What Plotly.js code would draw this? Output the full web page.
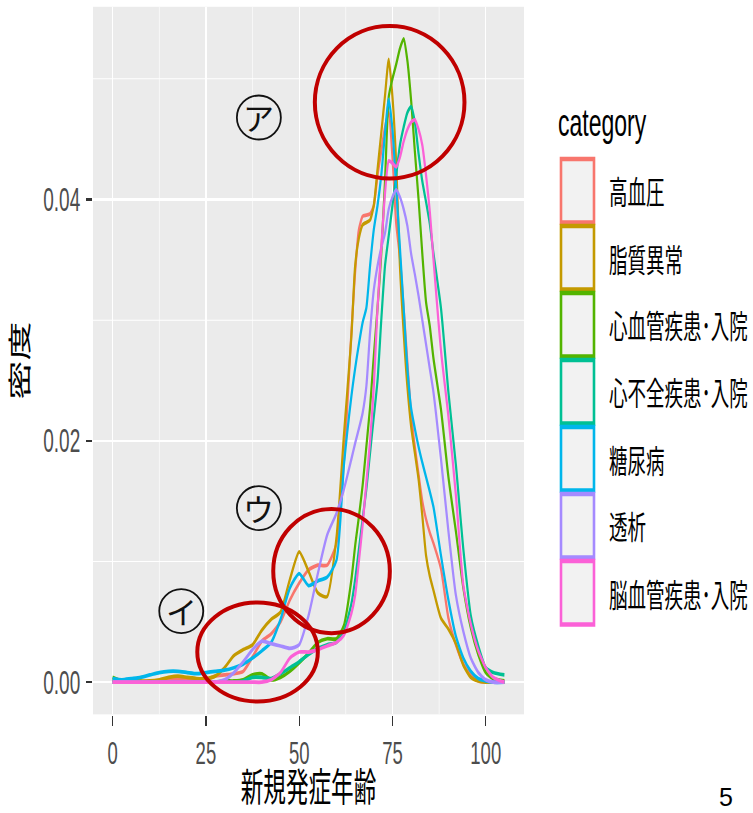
<!DOCTYPE html>
<html><head><meta charset="utf-8">
<script src="https://cdn.plot.ly/plotly-3.0.1.min.js"></script>
<style>
html,body{margin:0;padding:0;background:#fff;overflow:hidden;}
#wrap{position:relative;width:753px;height:813px;overflow:hidden;}
#chart{position:absolute;left:0;top:0;width:753px;height:478px;transform:scaleY(1.700837);transform-origin:0 0;}
#marks{position:absolute;left:0;top:0;width:753px;height:813px;}
</style></head><body>
<div id="wrap"><div id="chart"></div><div id="marks"></div></div>
<script>
// ---- data ----
const ageX = [0,2.5,5,7.5,10,12.5,15,17.5,20,22.5,25,27.5,30,32.5,35,37.5,40,42.5,45,47.5,50,52.5,55,57.5,60,
  62,64,65,66,67,68,69,70,71,72,73,74,75,76,77,78,79,80,81,82,83,84,85,86,88,90,92,94,96,98,100,102,105];
const categories = ['高血圧','脂質異常','心血管疾患･入院','心不全疾患･入院','糖尿病','透析','脳血管疾患･入院'];
const seriesColors = ['#F8766D','#C49A00','#53B400','#00C094','#00B6EB','#A58AFF','#FB61D7'];

const dHypertension = [0,0,0,0,0.0001,0.0001,0.0002,0.0003,0.0003,0.0001,0.0002,0.0005,0.0006,0.0007,0.0009,0.0021,0.0034,0.004,0.005,0.0068,0.0082,0.0093,0.0097,0.0097,0.0115,
  0.0183,0.029,0.034,0.0375,0.0386,0.0387,0.0388,0.0395,0.042,0.044,0.046,0.0472,0.0435,0.038,0.0352,0.031,0.0265,0.0222,0.0195,0.0172,0.015,0.0135,0.0124,0.0115,
  0.0094,0.0053,0.0031,0.0015,0.0006,0.0001,0,0,0];
const dDyslipidemia = [0.0002,0.0001,0.0001,0.0001,0.0001,0.0002,0.0004,0.0005,0.0004,0.0003,0.0003,0.0005,0.0012,0.0022,0.0027,0.0031,0.0043,0.0052,0.0058,0.0085,0.0108,0.0092,0.0074,0.0071,0.012,
  0.0205,0.0287,0.0345,0.0368,0.0379,0.0381,0.0383,0.0395,0.0425,0.0455,0.0486,0.0516,0.0485,0.043,0.0345,0.029,0.0245,0.0212,0.019,0.0168,0.0138,0.0105,0.0088,0.0076,
  0.0053,0.0044,0.0032,0.0014,0.0004,0.0001,0,0,0];
const dCardio = [0.0004,0.0001,0,0,0,0,0,0,0,0,0,0,0.0001,0.0001,0.0002,0.0006,0.0007,0.0002,0.0004,0.0009,0.0016,0.0024,0.0033,0.0036,0.0036,
  0.0047,0.0085,0.0113,0.0137,0.0163,0.0195,0.0228,0.027,0.031,0.0355,0.0415,0.0485,0.05,0.0512,0.0525,0.0533,0.0515,0.0482,0.044,0.04,0.0355,0.0315,0.0295,0.0268,
  0.0226,0.017,0.0125,0.0078,0.0045,0.0023,0.0008,0.0003,0.0001];
const dHeartFailure = [0,0,0,0,0,0,0,0,0,0,0,0,0,0,0.0001,0.0004,0.0004,0.0003,0.0007,0.0012,0.0017,0.0023,0.0028,0.0031,0.0033,
  0.0042,0.0065,0.0085,0.011,0.0135,0.016,0.019,0.022,0.025,0.03,0.0345,0.037,0.0395,0.042,0.0445,0.046,0.0472,0.0477,0.0464,0.0438,0.0415,0.0398,0.038,0.0355,
  0.031,0.024,0.018,0.011,0.0055,0.003,0.0012,0.0008,0.0006];
const dDiabetes = [0.0003,0.0002,0.0003,0.0004,0.0006,0.0008,0.0009,0.0009,0.0008,0.0007,0.0008,0.0009,0.001,0.0012,0.0015,0.002,0.0026,0.0033,0.0052,0.0078,0.009,0.008,0.0084,0.0087,0.0101,
  0.018,0.0237,0.026,0.028,0.0298,0.031,0.0345,0.0375,0.0395,0.042,0.0455,0.0483,0.0458,0.041,0.036,0.031,0.026,0.0227,0.021,0.0195,0.0182,0.017,0.0158,0.0145,
  0.0105,0.0068,0.0038,0.002,0.0009,0.0003,0.0001,0,0];
const dDialysis = [0,0,0,0,0,0,0,0,0,0,0,0,0.0002,0.0008,0.0017,0.0027,0.0034,0.0032,0.003,0.0028,0.0031,0.0055,0.009,0.0122,0.014,
  0.016,0.0185,0.0198,0.021,0.0223,0.0245,0.029,0.0325,0.0345,0.036,0.0372,0.0392,0.0402,0.0408,0.0402,0.0392,0.0378,0.0355,0.0338,0.032,0.03,0.028,0.026,0.024,
  0.0185,0.0125,0.0072,0.0042,0.002,0.0008,0.0002,0,0];
const dStroke = [0,0,0,0,0,0,0,0,0,0,0,0,0,0,0,0,0,0.0002,0.0008,0.002,0.0025,0.0025,0.0027,0.003,0.0033,
  0.0039,0.0057,0.0072,0.01,0.013,0.0165,0.02,0.0245,0.031,0.036,0.0405,0.0432,0.043,0.0427,0.0435,0.0448,0.0458,0.0464,0.0466,0.0458,0.0445,0.042,0.039,0.035,
  0.0275,0.022,0.0155,0.008,0.0048,0.0026,0.0012,0.0004,0];
const densities = [dHypertension,dDyslipidemia,dCardio,dHeartFailure,dDiabetes,dDialysis,dStroke];

const xTicks = [0,25,50,75,100];
const yTicks = [0,0.02,0.04];
const yTickText = ['0.00','0.02','0.04'];
const xTitle = '新規発症年齢';
const yTitle = '密度';
const legendTitle = 'category';
const pageNumber = '5';

// annotation marks (circled labels and red highlight circles), data units
const markLabels = ['ア','イ','ウ'];
const markLabelX = [39.2,18.4,39.2];
const markLabelY = [0.0468,0.00587,0.01441];
const ringX0 = [54.2,22.7,43.05];
const ringX1 = [94.3,55.0,74.3];
const ringY0 = [0.04174,-0.00163,0.00404];
const ringY1 = [0.05438,0.00658,0.01433];

// ---- geometry ----
const S = 813/478;
const W = 753, H = 478;
const M = {l:93, r:229, t:4, b:58};
const plotW = W - M.l - M.r, plotH = H - M.t - M.b;
const xRange = [-5.25,110.25];
const yRange = [-0.002665,0.055965];
const latin = 'Liberation Sans, Arial, Noto Sans CJK JP, sans-serif';
const cjk = 'Noto Sans CJK JP, Liberation Sans, sans-serif';
function pX(px){return (px - M.l)/plotW;}
function pY(postY){return (H - M.b - postY/S)/plotH;}

const traces = categories.map((c,i)=>({
  type:'scatter', mode:'lines', x:ageX, y:densities[i], name:c,
  line:{color:seriesColors[i], width:2.2, shape:'spline', smoothing:0.6},
  hoverinfo:'skip', showlegend:false
}));

const shapes = [], annotations = [];
categories.forEach((c,i)=>{
  const top = 159 + 67*i, bot = 222.5 + 67*i;
  shapes.push({type:'rect', xref:'paper', yref:'paper', x0:pX(561), x1:pX(594), y0:pY(bot), y1:pY(top),
    fillcolor:'#F2F2F2', line:{color:seriesColors[i], width:2.6}});
  annotations.push({xref:'paper', yref:'paper', x:pX(607), y:pY((top+bot)/2), text:c, showarrow:false,
    xanchor:'left', yanchor:'middle', font:{family:cjk, size:18.5, color:'#000'}});
});
annotations.push({xref:'paper', yref:'paper', x:pX(556), y:pY(122), text:legendTitle, showarrow:false,
  xanchor:'left', yanchor:'middle', font:{family:latin, size:23, color:'#000'}});

const layout = {
  width:W, height:H, margin:M, paper_bgcolor:'#FFFFFF', plot_bgcolor:'#EBEBEB', showlegend:false,
  xaxis:{range:xRange, tickmode:'array', tickvals:xTicks, ticks:'outside', ticklen:6, tickwidth:1.3, tickcolor:'#333333',
    showgrid:true, gridcolor:'#FFFFFF', gridwidth:1.3, zeroline:false, showline:false, automargin:false,
    minor:{tickmode:'linear', tick0:12.5, dtick:25, showgrid:true, gridcolor:'#FFFFFF', gridwidth:0.6, ticks:''},
    tickfont:{family:latin, size:18.5, color:'#4D4D4D'},
    title:{text:xTitle, font:{family:cjk, size:22.6, color:'#000'}, standoff:12}},
  yaxis:{range:yRange, tickmode:'array', tickvals:yTicks, ticktext:yTickText, ticks:'outside', ticklen:6, tickwidth:1.3, tickcolor:'#333333',
    showgrid:true, gridcolor:'#FFFFFF', gridwidth:1.3, zeroline:false, showline:false, automargin:false,
    minor:{tickmode:'linear', tick0:0.01, dtick:0.02, showgrid:true, gridcolor:'#FFFFFF', gridwidth:0.6, ticks:''},
    tickfont:{family:latin, size:19, color:'#4D4D4D'}, ticklabelstandoff:2,
    title:{text:yTitle, font:{family:cjk, size:23, color:'#000'}, standoff:8}},
  shapes:shapes, annotations:annotations
};
Plotly.newPlot('chart', traces, layout, {staticPlot:true, displayModeBar:false});

// ---- overlay (unstretched) for the circles ----
const oShapes = [], oAnn = [];
ringX0.forEach((v,i)=>{
  oShapes.push({type:'circle', xref:'x', yref:'y', x0:ringX0[i], x1:ringX1[i], y0:ringY0[i], y1:ringY1[i],
    line:{color:'#C00000', width:4}});
});
markLabels.forEach((t,i)=>{
  oShapes.push({type:'circle', xref:'x', yref:'y', xsizemode:'pixel', ysizemode:'pixel',
    xanchor:markLabelX[i], yanchor:markLabelY[i], x0:-22, x1:22, y0:-22, y1:22, line:{color:'#111', width:1.8}});
  oAnn.push({xref:'x', yref:'y', x:markLabelX[i], y:markLabelY[i], text:t, showarrow:false,
    xanchor:'center', yanchor:'middle', yshift:1, font:{family:cjk, size:31, color:'#111'}});
});
const oM = {l:M.l, r:M.r, t:M.t*S, b:M.b*S};
const oPlotH = 813 - oM.t - oM.b;
oAnn.push({xref:'paper', yref:'paper', x:(726-M.l)/plotW, y:(813-oM.b-812)/oPlotH, text:pageNumber, showarrow:false,
  xanchor:'center', yanchor:'bottom', borderpad:0, font:{family:latin, size:25, color:'#000'}});
Plotly.newPlot('marks', [{type:'scatter', x:[], y:[], hoverinfo:'skip'}], {
  width:753, height:813, margin:oM, paper_bgcolor:'rgba(0,0,0,0)', plot_bgcolor:'rgba(0,0,0,0)', showlegend:false,
  xaxis:{range:xRange, visible:false}, yaxis:{range:yRange, visible:false},
  shapes:oShapes, annotations:oAnn
}, {staticPlot:true, displayModeBar:false});
</script>
</body></html>
